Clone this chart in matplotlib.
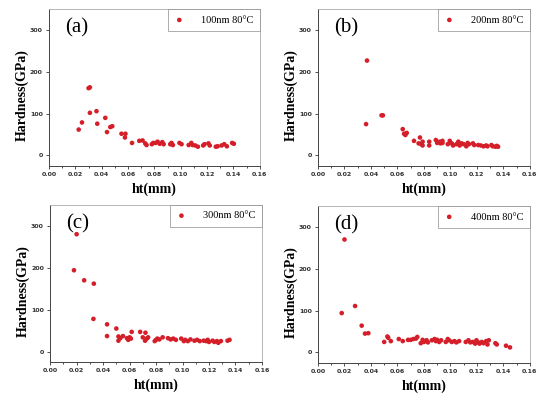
import matplotlib
matplotlib.use("Agg")
import matplotlib.pyplot as plt

# Hardness vs. total depth, four film thicknesses at 80 C
ht_a = [0.0225, 0.025, 0.030, 0.031, 0.031, 0.036, 0.0366, 0.0427, 0.044, 0.0465, 0.048,
        0.055, 0.0576, 0.058, 0.063, 0.0685, 0.071, 0.073, 0.074, 0.078, 0.079, 0.081,
        0.0824, 0.084, 0.086, 0.087, 0.092, 0.093, 0.094, 0.099, 0.1006, 0.106, 0.108,
        0.109, 0.111, 0.113, 0.117, 0.118, 0.121, 0.122, 0.1266, 0.128, 0.131, 0.133,
        0.135, 0.139, 0.1403]
hd_a = [62, 79, 161, 163, 102, 106, 76, 90, 56, 68, 70,
        52, 43, 52, 30, 35, 36, 29, 25, 27, 30, 30,
        33, 28, 32, 27, 27, 30, 25, 30, 27, 25, 30,
        25, 24, 21, 24, 27, 29, 24, 21, 22, 24, 27,
        22, 30, 28]

ht_b = [0.037, 0.0363, 0.048, 0.049, 0.064, 0.065, 0.067, 0.066, 0.0725, 0.077, 0.076,
        0.078, 0.079, 0.079, 0.084, 0.084, 0.089, 0.090, 0.092, 0.0925, 0.094, 0.094,
        0.098, 0.0995, 0.101, 0.102, 0.1045, 0.106, 0.107, 0.1085, 0.110, 0.112, 0.113,
        0.114, 0.117, 0.118, 0.121, 0.123, 0.125, 0.127, 0.128, 0.131, 0.132, 0.134,
        0.135, 0.136]
hd_b = [227, 75, 96, 96, 63, 52, 54, 49, 35, 43, 29,
        27, 33, 24, 24, 33, 37, 30, 33, 29, 30, 35,
        27, 35, 29, 24, 27, 33, 24, 29, 27, 22, 30,
        27, 29, 25, 25, 24, 22, 24, 22, 25, 22, 21,
        23, 21]

ht_c = [0.018, 0.020, 0.0257, 0.033, 0.0327, 0.043, 0.043, 0.050, 0.0516, 0.0516, 0.053,
        0.055, 0.058, 0.059, 0.060, 0.061, 0.0616, 0.068, 0.072, 0.070, 0.0717, 0.073,
        0.074, 0.079, 0.080, 0.081, 0.0825, 0.085, 0.089, 0.091, 0.093, 0.095, 0.099,
        0.101, 0.102, 0.104, 0.106, 0.109, 0.111, 0.113, 0.116, 0.118, 0.119, 0.120,
        0.1227, 0.124, 0.126, 0.127, 0.129, 0.134, 0.1355]
hd_c = [194, 280, 170, 162, 78, 65, 37, 55, 36, 26, 32,
        37, 32, 28, 34, 31, 47, 47, 45, 34, 26, 31,
        34, 25, 28, 31, 29, 34, 32, 29, 31, 28, 31,
        25, 28, 25, 29, 26, 28, 25, 26, 25, 28, 23,
        26, 23, 25, 21, 25, 26, 28]

ht_d = [0.0179, 0.020, 0.028, 0.033, 0.0355, 0.038, 0.050, 0.0524, 0.053, 0.055, 0.061,
        0.064, 0.068, 0.070, 0.072, 0.074, 0.075, 0.0776, 0.079, 0.080, 0.082, 0.083,
        0.086, 0.088, 0.089, 0.090, 0.0915, 0.093, 0.0965, 0.098, 0.099, 0.101, 0.103,
        0.1045, 0.1066, 0.1116, 0.1136, 0.115, 0.117, 0.1187, 0.1197, 0.121, 0.122,
        0.1237, 0.125, 0.127, 0.128, 0.129, 0.134, 0.135, 0.142, 0.145]
hd_d = [94, 270, 111, 64, 45, 46, 25, 38, 35, 27, 32,
        27, 30, 30, 32, 33, 37, 22, 30, 25, 29, 24,
        29, 32, 27, 30, 25, 29, 25, 32, 29, 25, 27,
        24, 27, 25, 29, 24, 25, 21, 29, 24, 21,
        25, 22, 27, 19, 29, 22, 19, 16, 12]

panel_tags = ["(a)", "(b)", "(c)", "(d)"]
legend_labels = ["100nm 80\u00b0C", "200nm 80\u00b0C", "300nm 80\u00b0C", "400nm 80\u00b0C"]
x_ticks = [0.00, 0.02, 0.04, 0.06, 0.08, 0.10, 0.12, 0.14, 0.16]
y_ticks = [0, 100, 200, 300]

series = [(ht_a, hd_a), (ht_b, hd_b), (ht_c, hd_c), (ht_d, hd_d)]
boxes = [[0.091, 0.582, 0.391, 0.395],
         [0.590, 0.582, 0.393, 0.395],
         [0.093, 0.088, 0.393, 0.396],
         [0.590, 0.086, 0.393, 0.395]]

serif = ["Liberation Serif", "DejaVu Serif"]
red = "#d41f2a"

fig = plt.figure(figsize=(5.39, 3.97), dpi=100)

for i, ((x, y), box) in enumerate(zip(series, boxes)):
    ax = fig.add_axes(box)
    ax.scatter(x, y, s=11, color=red, edgecolors="none", label=legend_labels[i], zorder=3)
    ax.set_xlim(0, 0.16)
    ax.set_ylim(-25, 350)
    ax.set_xticks(x_ticks)
    ax.set_xticklabels([f"{t:.2f}" for t in x_ticks])
    ax.set_xticks([t + 0.01 for t in x_ticks[:-1]], minor=True)
    ax.set_yticks(y_ticks)
    ax.tick_params(axis="both", which="major", direction="out", length=2.5, width=0.6,
                   labelsize=4.5, pad=2, colors="#333333")
    ax.tick_params(axis="both", which="minor", direction="out", length=1.5, width=0.5)
    for lab in ax.get_xticklabels() + ax.get_yticklabels():
        lab.set_fontweight("bold")
    for side in ["left", "bottom"]:
        ax.spines[side].set_color("#444444")
        ax.spines[side].set_linewidth(0.7)
    for side in ["top", "right"]:
        ax.spines[side].set_color("#aaaaaa")
        ax.spines[side].set_linewidth(0.6)

    ax.set_xlabel("ht(mm)", family=serif, fontsize=10, fontweight="bold", labelpad=4)
    ax.set_ylabel("Hardness(GPa)", family=serif, fontsize=10, fontweight="bold")
    ax.yaxis.set_label_coords(-0.095, 0.45)

    ax.text(0.075, 0.94, panel_tags[i], transform=ax.transAxes, family=serif,
            fontsize=15, va="top", ha="left")

    leg = ax.legend(loc="upper right", borderaxespad=0, frameon=True, fancybox=False,
                    handletextpad=1.6, handlelength=1.0, borderpad=0.6,
                    prop={"family": serif, "size": 7.5})
    leg.get_frame().set_edgecolor("#888888")
    leg.get_frame().set_linewidth(0.6)

fig.savefig("out.png", dpi=100)
